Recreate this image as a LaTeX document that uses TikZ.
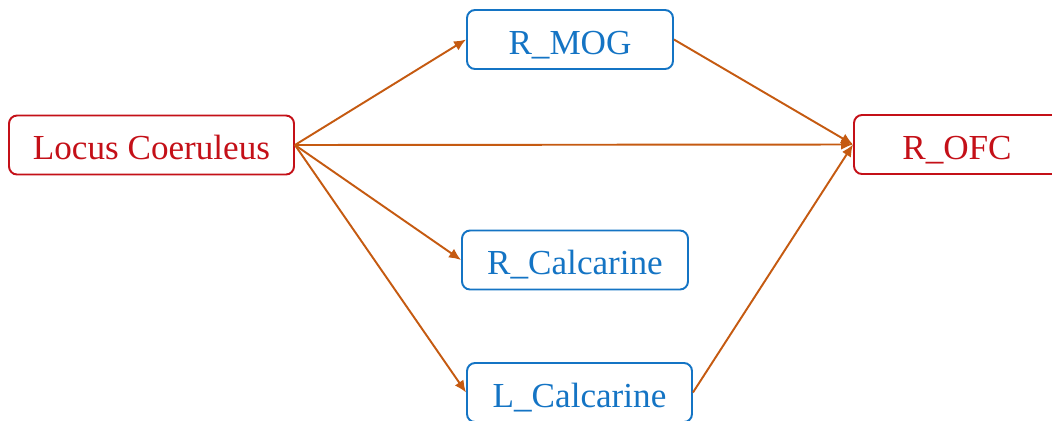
\documentclass[tikz,border=0pt]{standalone}
\usepackage{fontspec}
\setmainfont{Liberation Serif}
\usepackage{xcolor}
\usetikzlibrary{arrows.meta}
\definecolor{seedred}{RGB}{196,16,24}
\definecolor{roiblue}{RGB}{20,116,196}
\definecolor{linkorange}{RGB}{197,90,17}
\tikzset{
    region/.style={
        draw,
        rectangle,
        rounded corners=0.16cm,
        line width=1.1pt,
        minimum height=1.18cm,
        text height=0.62cm,
        text depth=0.04cm,
        inner sep=2pt,
        font=\fontsize{20}{24}\selectfont
    },
    seedbox/.style={
        region,
        draw=seedred,
        text=seedred
    },
    roibox/.style={
        region,
        draw=roiblue,
        text=roiblue
    },
    link/.style={
        draw=linkorange,
        line width=1.1pt,
        -{Latex[length=2.4mm, width=2.1mm]}
    }
}

\begin{document}
\begin{tikzpicture}[x=0.02cm, y=-0.02cm]
  \clip (0,0) rectangle (1052,420);

  % Seed and target
  \node[seedbox, minimum width=5.7cm] (lc) at (151.5,145) {Locus Coeruleus};
  \node[seedbox, minimum width=4.12cm] (rofc) at (957,144.5) {R\_OFC};

  % Intermediate regions
  \node[roibox, minimum width=4.12cm] (rmog) at (570,39.5) {R\_MOG};
  \node[roibox, minimum width=4.52cm] (rcal) at (575,260) {R\_Calcarine};
  \node[roibox, minimum width=4.5cm] (lcal) at (579.5,392.5) {L\_Calcarine};

  % Connections
  \draw[link] (lc.east) -- (rmog.west);
  \draw[link] (lc.east) -- (rofc.west);
  \draw[link] (lc.east) -- (rcal.west);
  \draw[link] (lc.east) -- (lcal.west);
  \draw[link] (rmog.east) -- (rofc.west);
  \draw[link] (lcal.east) -- (rofc.west);
\end{tikzpicture}
\end{document}
